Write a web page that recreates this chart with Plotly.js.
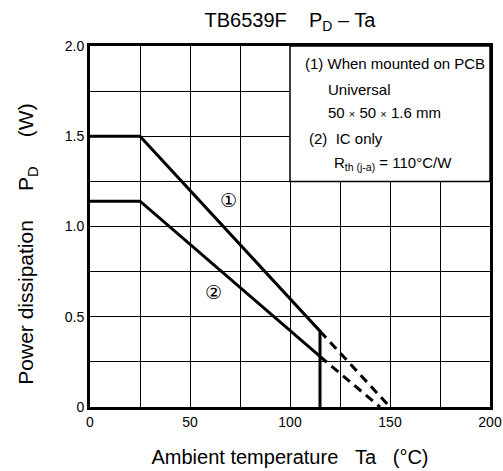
<!DOCTYPE html>
<html>
<head>
<meta charset="utf-8">
<script src="https://cdn.plot.ly/plotly-3.0.1.min.js"></script>
<style>html,body{margin:0;padding:0;background:#fff;}#chart{width:503px;height:471px;}</style>
</head>
<body>
<div id="chart"></div>
<script>
// Curve (1): mounted on PCB
var pcbTa = [0, 25, 115, 115];
var pcbPd = [1.5, 1.5, 0.42, 0];
var pcbDashTa = [115, 150];
var pcbDashPd = [0.42, 0];
// Curve (2): IC only
var icTa = [0, 25, 115];
var icPd = [1.14, 1.14, 0.28];
var icDashTa = [115, 145];
var icDashPd = [0.28, 0];

var xTickVals = [0, 50, 100, 150, 200];
var xTickText = ["0", "50", "100", "150", "200"];
var yTickVals = [0, 0.5, 1.0, 1.5, 2.0];
var yTickText = ["0", "0.5", "1.0", "1.5", "2.0"];

var noteLines = [
  "(1) When mounted on PCB",
  "Universal",
  "50 <span style=\"font-size:11px\">×</span> 50 <span style=\"font-size:11px\">×</span> 1.6 mm",
  "(2)  IC only",
  "R<sub style=\"font-size:13px\">th (j-a)</sub> = 110°C/W"
];
var notePos = [[106.5, 1.904], [117.9, 1.761], [117.9, 1.629], [108.4, 1.489], [120.9, 1.351]];

var FONT = "Liberation Sans, Arial, Helvetica, sans-serif";
var NB = "\u00a0";
function sp(n){ return NB.repeat(n); }

var solidLine = {color: "#000", width: 3};
var dashLine = {color: "#000", width: 3, dash: "9px,6px"};

var traces = [
  {x: pcbTa, y: pcbPd, mode: "lines", line: solidLine, name: "(1)", hoverinfo: "skip"},
  {x: pcbDashTa, y: pcbDashPd, mode: "lines", line: dashLine, name: "(1) ext", hoverinfo: "skip"},
  {x: icTa, y: icPd, mode: "lines", line: solidLine, name: "(2)", hoverinfo: "skip"},
  {x: icDashTa, y: icDashPd, mode: "lines", line: dashLine, name: "(2) ext", hoverinfo: "skip"}
];

var annotations = noteLines.map(function(t, i){
  return {x: notePos[i][0], y: notePos[i][1], xref: "x", yref: "y", text: t,
    showarrow: false, xanchor: "left", yanchor: "middle",
    font: {family: FONT, size: 15, color: "#000"}};
});
annotations.push({x: 69, y: 1.146, xref: "x", yref: "y", text: "①", showarrow: false,
  font: {family: "DejaVu Sans, sans-serif", size: 19, color: "#000"}});
annotations.push({x: 61.5, y: 0.635, xref: "x", yref: "y", text: "②", showarrow: false,
  font: {family: "DejaVu Sans, sans-serif", size: 19, color: "#000"}});
// y-axis title (placed as a rotated annotation to match the reference offset)
annotations.push({x: -0.1575, y: 0.4496, xref: "paper", yref: "paper", textangle: -90,
  text: "Power dissipation" + sp(5) + "P<sub>D</sub>" + sp(5) + "(W)", showarrow: false,
  xanchor: "center", yanchor: "middle",
  font: {family: FONT, size: 21, color: "#000"}});

var layout = {
  width: 503, height: 471,
  margin: {l: 90, r: 13, t: 46, b: 64, pad: 0},
  paper_bgcolor: "#fff", plot_bgcolor: "#fff",
  showlegend: false,
  font: {family: FONT, color: "#000", size: 14},
  title: {text: "TB6539F" + sp(4) + "P<sub>D</sub> – Ta", x: 0.5765, xanchor: "center", y: 0.9575, yanchor: "middle",
    font: {family: FONT, size: 20, color: "#000"}},
  xaxis: {range: [0, 200], tickmode: "array", tickvals: xTickVals, ticktext: xTickText,
    showgrid: true, gridcolor: "#000", gridwidth: 1, zeroline: false,
    minor: {dtick: 25, tick0: 0, showgrid: true, gridcolor: "#000", gridwidth: 1, ticks: ""},
    showline: true, linecolor: "#000", linewidth: 3, mirror: true, ticks: "",
    tickfont: {family: FONT, size: 14, color: "#000"}, fixedrange: true,
    title: {text: "Ambient temperature" + sp(3) + "Ta" + sp(3) + "(°C)", standoff: 22,
      font: {family: FONT, size: 20, color: "#000"}}},
  yaxis: {range: [0, 2.0], tickmode: "array", tickvals: yTickVals, ticktext: yTickText,
    showgrid: true, gridcolor: "#000", gridwidth: 1, zeroline: false,
    minor: {dtick: 0.25, tick0: 0, showgrid: true, gridcolor: "#000", gridwidth: 1, ticks: ""},
    showline: true, linecolor: "#000", linewidth: 3, mirror: true, ticks: "",
    tickfont: {family: FONT, size: 14, color: "#000"}, fixedrange: true},
  shapes: [{type: "rect", xref: "x", yref: "y", x0: 100, x1: 200, y0: 1.25, y1: 2.0,
    fillcolor: "#fff", line: {color: "#000", width: 1.5}, layer: "above"}],
  annotations: annotations
};

Plotly.newPlot("chart", traces, layout, {displayModeBar: false, staticPlot: true});
</script>
</body>
</html>
